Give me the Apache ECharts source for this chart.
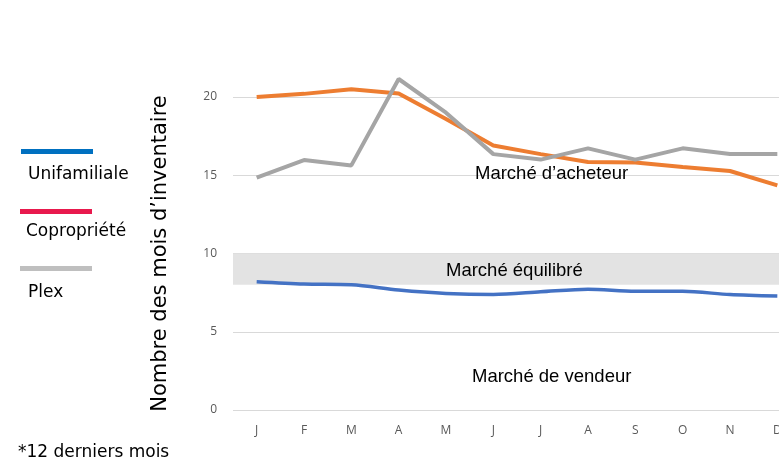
<!DOCTYPE html>
<html>
<head>
<meta charset="utf-8">
<script src="https://cdn.jsdelivr.net/npm/echarts@6/dist/echarts.min.js"></script>
<style>
  html, body { margin: 0; padding: 0; background: #fff; overflow: hidden; }
  /* le graphique original est rogné à droite : le tracé déborde de la fenêtre */
  #chart { width: 801px; height: 461px; }
</style>
</head>
<body>
<div id="chart"></div>
<script>
// mois (12 derniers mois)
var months = ['J', 'F', 'M', 'A', 'M', 'J', 'J', 'A', 'S', 'O', 'N', 'D'];
var unifamiliale = [8.2, 8.05, 8.0, 7.67, 7.45, 7.38, 7.55, 7.72, 7.58, 7.58, 7.38, 7.28];
var copropriete = [20.0, 20.2, 20.5, 20.23, 18.6, 16.9, 16.35, 15.85, 15.82, 15.53, 15.27, 14.35];
var plex = [14.85, 15.97, 15.63, 21.15, 19.0, 16.35, 16.0, 16.72, 16.0, 16.72, 16.36, 16.36];
var yTicks = [0, 5, 10, 15, 20];
var equilibre = [8, 10];

var font = '"Liberation Sans", Arial, sans-serif';
var wideFont = '"DejaVu Sans", sans-serif';
var textColor = '#000';

var chart = echarts.init(document.getElementById('chart'));

var option = {
  animation: false,
  grid: { left: 233, right: 0, top: 97, bottom: 51 },
  xAxis: {
    type: 'category',
    data: months,
    axisLine: { show: false },
    axisTick: { show: false },
    axisLabel: { color: '#595959', fontSize: 12, margin: 15, fontFamily: '"Open Sans", sans-serif' }
  },
  yAxis: {
    type: 'value',
    min: 0,
    max: yTicks[yTicks.length - 1],
    interval: 5,
    axisLabel: { color: '#595959', fontSize: 12, margin: 16, fontFamily: '"Open Sans", sans-serif' },
    splitLine: { lineStyle: { color: '#d9d9d9', width: 1 } },
    name: 'Nombre des mois d\u2019inventaire',
    nameLocation: 'middle',
    nameGap: 62,
    nameTextStyle: { color: textColor, fontSize: 21, fontFamily: wideFont }
  },
  graphic: [
    // légende
    { type: 'rect', z: 100, shape: { x: 21, y: 149, width: 72, height: 5 }, style: { fill: '#0070c0' } },
    { type: 'text', z: 100, left: 28, top: 166, style: { text: 'Unifamiliale', fill: textColor, font: '17px ' + wideFont } },
    { type: 'rect', z: 100, shape: { x: 20, y: 209, width: 72, height: 5 }, style: { fill: '#e8194d' } },
    { type: 'text', z: 100, left: 26, top: 223, style: { text: 'Copropri\u00e9t\u00e9', fill: textColor, font: '17px ' + wideFont } },
    { type: 'rect', z: 100, shape: { x: 20, y: 266, width: 72, height: 5 }, style: { fill: '#bfbfbf' } },
    { type: 'text', z: 100, left: 28, top: 284, style: { text: 'Plex', fill: textColor, font: '17px ' + wideFont } },
    // zones
    { type: 'text', z: 100, left: 475, top: 164, style: { text: 'March\u00e9 d\u2019acheteur', fill: textColor, font: '18.5px ' + font } },
    { type: 'text', z: 100, left: 446, top: 261, style: { text: 'March\u00e9 \u00e9quilibr\u00e9', fill: textColor, font: '18.5px ' + font } },
    { type: 'text', z: 100, left: 472, top: 367, style: { text: 'March\u00e9 de vendeur', fill: textColor, font: '18.5px ' + font } },
    { type: 'text', z: 100, left: 18, top: 444, style: { text: '*12 derniers mois', fill: textColor, font: '17px ' + wideFont } }
  ],
  series: [
    {
      name: 'Unifamiliale',
      type: 'line',
      data: unifamiliale,
      smooth: 0.3,
      symbol: 'none',
      clip: false,
      z: 4,
      lineStyle: { color: '#4472c4', width: 3.5 },
      markArea: {
        silent: true,
        itemStyle: { color: '#e3e3e3' },
        data: [[{ yAxis: equilibre[0] }, { yAxis: equilibre[1] }]]
      }
    },
    {
      name: 'Copropri\u00e9t\u00e9',
      type: 'line',
      data: copropriete,
      symbol: 'none',
      clip: false,
      z: 3,
      lineStyle: { color: '#ed7d31', width: 4 }
    },
    {
      name: 'Plex',
      type: 'line',
      data: plex,
      symbol: 'none',
      clip: false,
      z: 5,
      lineStyle: { color: '#a5a5a5', width: 4 }
    }
  ]
};

chart.setOption(option);
</script>
</body>
</html>
